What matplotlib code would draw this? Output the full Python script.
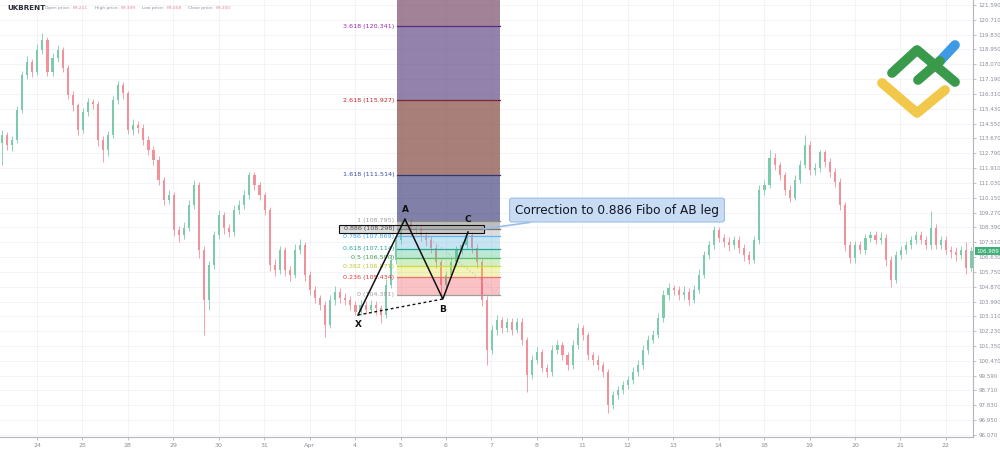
import numpy as np
import matplotlib
matplotlib.use('Agg')
import matplotlib.pyplot as plt
import matplotlib.transforms as mtrans

# dati (candele UKBRENT, ~9 candele per giorno)
first_open = 113.40
closes = [113.87, 113.28, 113.58, 115.36, 117.44, 118.21, 117.61, 118.92, 119.51, 117.61,
          118.44, 118.92, 117.85, 116.25, 115.66, 114.17, 115.24, 115.83, 115.71, 113.58,
          112.98, 113.87, 115.95, 116.84, 116.37, 114.17, 114.47, 114.29, 113.58, 112.98,
          112.39, 111.20, 110.02, 110.31, 108.24, 107.94, 108.36, 109.72, 110.91, 107.05,
          104.08, 106.16, 107.94, 109.13, 108.36, 108.12, 109.42, 109.72, 110.31, 111.50,
          110.91, 110.31, 109.42, 106.16, 105.86, 107.05, 105.86, 105.57, 107.05, 107.35,
          105.57, 104.68, 104.20, 103.79, 102.60, 104.08, 104.56, 104.20, 104.08, 103.79,
          103.37, 103.79, 103.49, 103.79, 103.61, 103.19, 104.97, 106.46, 107.64, 108.53,
          108.71, 108.24, 108.36, 107.94, 107.64, 107.17, 106.34, 104.97, 105.57, 106.34,
          107.05, 107.35, 107.94, 107.17, 106.34, 104.08, 101.11, 102.30, 102.90, 102.42,
          102.78, 102.30, 102.78, 101.71, 99.63, 100.52, 101.00, 100.05, 99.81, 101.11,
          101.41, 100.82, 100.22, 101.41, 102.42, 102.00, 100.82, 100.52, 100.22, 99.81,
          97.85, 98.44, 98.74, 99.04, 99.33, 99.81, 100.22, 101.11, 101.71, 102.00,
          103.01, 104.38, 104.79, 104.68, 104.38, 104.56, 104.08, 104.68, 105.57, 106.75,
          107.35, 108.24, 107.76, 107.52, 107.35, 107.64, 107.17, 106.75, 106.46, 107.64,
          110.61, 110.91, 112.51, 112.09, 111.50, 110.61, 110.14, 111.20, 112.09, 113.28,
          111.80, 111.92, 112.87, 112.27, 111.68, 111.09, 109.72, 107.35, 106.58, 107.35,
          107.05, 107.76, 107.94, 107.64, 107.76, 106.46, 105.27, 106.75, 107.05, 107.35,
          107.64, 107.94, 107.64, 107.35, 108.36, 107.35, 107.64, 107.05, 106.93, 106.75,
          107.05, 105.98, 106.989]
highs = [114.20, 114.05, 113.80, 115.60, 117.70, 118.55, 118.40, 119.30, 119.93, 119.70,
         118.75, 119.20, 119.10, 118.00, 116.50, 115.80, 115.50, 116.10, 116.00, 115.90,
         113.80, 114.10, 116.20, 117.05, 117.00, 116.50, 114.80, 114.70, 114.50, 113.80,
         113.20, 112.60, 111.40, 110.60, 110.50, 108.50, 108.70, 110.00, 111.20, 111.10,
         107.30, 106.40, 108.20, 109.40, 109.30, 108.60, 109.70, 110.00, 110.60, 111.70,
         111.65, 111.10, 110.50, 109.60, 106.50, 107.30, 107.20, 106.10, 107.40, 107.70,
         107.50, 105.80, 104.90, 104.40, 104.00, 104.40, 104.90, 104.80, 104.50, 104.30,
         104.00, 104.10, 104.00, 104.10, 104.00, 103.80, 105.30, 106.80, 107.90, 108.80,
         108.85, 108.90, 108.60, 108.60, 108.20, 107.90, 107.40, 106.50, 105.80, 106.60,
         107.30, 107.60, 108.10, 108.10, 107.40, 106.50, 104.30, 102.60, 103.20, 103.10,
         103.00, 103.00, 103.00, 103.00, 101.90, 100.80, 101.30, 101.20, 100.30, 101.40,
         101.70, 101.60, 101.00, 101.70, 102.70, 102.60, 102.20, 101.00, 100.80, 100.40,
         100.00, 98.70, 99.00, 99.30, 99.60, 100.10, 100.50, 101.40, 102.00, 102.30,
         103.30, 104.70, 105.10, 105.00, 104.90, 104.90, 104.80, 105.00, 105.90, 107.00,
         107.60, 108.45, 108.40, 108.00, 107.80, 107.90, 107.90, 107.40, 107.00, 107.90,
         110.90, 111.20, 112.99, 112.80, 112.30, 111.70, 110.90, 111.50, 112.40, 113.87,
         113.50, 112.20, 113.00, 113.00, 112.50, 111.90, 111.30, 109.90, 107.60, 107.60,
         107.60, 108.00, 108.20, 108.20, 108.10, 108.00, 106.70, 107.00, 107.30, 107.60,
         107.90, 108.20, 108.20, 107.90, 109.35, 108.60, 107.90, 107.90, 107.30, 107.20,
         107.30, 107.50, 107.20]
lows = [112.10, 113.00, 112.95, 113.40, 115.20, 117.20, 117.30, 117.45, 118.70, 117.35,
        117.40, 118.20, 117.60, 116.00, 115.30, 113.90, 114.00, 115.00, 115.40, 113.20,
        112.30, 112.60, 113.70, 115.70, 116.00, 113.95, 113.90, 114.00, 113.30, 112.70,
        112.10, 110.90, 109.70, 109.80, 107.90, 107.50, 107.70, 108.20, 109.50, 106.60,
        101.99, 103.50, 105.90, 107.70, 108.00, 107.80, 107.90, 109.20, 109.50, 110.10,
        110.60, 110.00, 109.10, 105.80, 105.50, 105.60, 105.50, 105.20, 105.40, 106.80,
        105.20, 104.40, 103.90, 103.50, 101.89, 102.40, 103.80, 103.90, 103.80, 103.50,
        103.19, 103.20, 103.25, 103.30, 103.20, 102.70, 103.00, 104.80, 106.20, 107.40,
        108.30, 107.90, 108.00, 107.60, 107.30, 106.90, 106.00, 104.14, 104.70, 105.40,
        106.10, 106.80, 107.10, 106.90, 106.00, 103.70, 100.20, 100.90, 102.00, 102.10,
        102.20, 102.00, 102.10, 101.40, 98.60, 99.40, 100.30, 99.80, 99.50, 99.60,
        100.90, 100.50, 99.90, 100.00, 101.20, 101.70, 100.50, 100.20, 99.90, 99.50,
        97.40, 97.60, 98.20, 98.50, 98.80, 99.10, 99.60, 100.00, 100.90, 101.50,
        101.80, 102.80, 104.10, 104.40, 104.10, 104.10, 103.80, 103.90, 104.50, 105.40,
        106.50, 107.10, 107.50, 107.20, 107.00, 107.10, 106.90, 106.40, 106.20, 106.30,
        107.40, 110.30, 110.70, 111.80, 111.20, 110.30, 109.90, 110.00, 111.00, 111.90,
        111.50, 111.50, 111.70, 112.00, 111.40, 110.80, 109.40, 107.00, 106.30, 106.30,
        106.80, 106.80, 107.50, 107.40, 107.40, 106.10, 104.85, 105.10, 106.50, 106.80,
        107.10, 107.40, 107.40, 107.10, 107.10, 107.10, 107.10, 106.80, 106.60, 106.40,
        106.50, 105.60, 105.80]

day_labels = ['24', '25', '28', '29', '30', '31', 'Apr', '4', '5', '6', '7', '8',
              '11', '12', '13', '14', '18', '19', '20', '21', '22']
price_ticks = [96.07 + 0.88 * k for k in range(30)]

# ritracciamento di Fibonacci
fib_ratios = ['0', '0.236', '0.382', '0.5', '0.618', '0.786', '0.886', '1', '1.618', '2.618', '3.618']
fib_prices = [104.381, 105.434, 106.071, 106.590, 107.114, 107.869, 108.298, 108.795, 111.514, 115.927, 120.341]
fib_start, fib_end = 78.2, 98.6

# pattern XABC (indice candela, prezzo)
pat_names = ['X', 'A', 'B', 'C']
pat_x = [70.5, 79.8, 87.3, 92.3]
pat_y = [103.19, 108.89, 104.14, 108.12]

header = [('Open price:', '69.211'), ('High price:', '69.399'),
          ('Low price:', '69.058'), ('Close price:', '69.200')]

closes = np.array(closes); highs = np.array(highs); lows = np.array(lows)
opens = np.r_[first_open, closes[:-1]]
idx = np.arange(len(closes))
up = closes >= opens

fig = plt.figure(figsize=(10, 4.49), dpi=100)
ax = fig.add_axes([0, 12 / 449, 0.973, 437 / 449])
ax.set_xlim(-0.4, 192.3)
ax.set_ylim(95.95, 121.887)

# griglia
day_pos = [6.93 + 9 * k for k in range(len(day_labels))]
for p in price_ticks:
    ax.axhline(p, color='#f0f2f7', lw=0.6, zorder=0)
for d in day_pos:
    ax.axvline(d, color='#f0f2f7', lw=0.6, zorder=0)

# candele
col_up, col_dn = '#7ccbaa', '#f3919b'
colors = np.where(up, col_up, col_dn)
ax.vlines(idx, lows, highs, colors=colors, lw=0.6, zorder=2)
body = np.maximum(np.abs(closes - opens), 0.05)
ax.bar(idx, body, bottom=np.minimum(opens, closes), width=0.42, color=colors, lw=0, zorder=2)

# bande di Fibonacci
band_cols = [('#f23645', 0.30), ('#d4d41a', 0.30), ('#7ccf5a', 0.35), ('#3fbf8a', 0.35),
             ('#5fb3dc', 0.35), ('#9e9e9e', 0.35), ('#8a8a8a', 0.55), ('#3c3c7a', 0.65),
             ('#7a3a32', 0.65), ('#5a3f80', 0.65), ('#703f60', 0.65)]
line_cols = ['#9e9e9e', '#e57373', '#cddc39', '#66bb6a', '#26a69a', '#64b5f6',
             '#757575', '#8a8a8a', '#35357a', '#7a2a2a', '#5a2a80']
lab_cols = ['#9e9e9e', '#e53935', '#c0ca33', '#43a047', '#26a69a', '#42a5f5',
            '#222222', '#9e9e9e', '#3949ab', '#c62828', '#9c27b0']
tops = fib_prices[1:] + [ax.get_ylim()[1]]
for lo, hi, (c, a) in zip(fib_prices, tops, band_cols):
    ax.fill_between([fib_start, fib_end], lo, hi, color=c, alpha=a, lw=0, zorder=3)
for p, r, lc, tc in zip(fib_prices, fib_ratios, line_cols, lab_cols):
    ax.plot([fib_start, fib_end], [p, p], color=lc, lw=0.9, zorder=3)
    ax.text(fib_start - 0.5, p, '%s (%.3f)' % (r, p), color=tc, fontsize=4.6,
            ha='right', va='center', zorder=4)
ax.plot([fib_start + 2, fib_end], [fib_prices[7], fib_prices[0]], color='#bdbdbd',
        lw=0.8, ls=(0, (1, 2)), zorder=3)

# rettangolo evidenziato 0.886
ax.add_patch(plt.Rectangle((66.7, 108.07), 95.4 - 66.7, 108.51 - 108.07,
                           facecolor='#9e9e9e', alpha=0.35, edgecolor='none', zorder=4))
ax.add_patch(plt.Rectangle((66.7, 108.07), 95.4 - 66.7, 108.51 - 108.07,
                           facecolor='none', edgecolor='#111111', lw=0.8, zorder=4))

# XABC
ax.plot(pat_x, pat_y, color='#111111', lw=1.1, zorder=5)
ax.plot([pat_x[0], pat_x[2]], [pat_y[0], pat_y[2]], color='#111111', lw=1, ls=(0, (2, 2)), zorder=5)
offs = [-0.55, 0.55, -0.62, 0.72]
for n, x, y, o in zip(pat_names, pat_x, pat_y, offs):
    ax.text(x, y + o, n, fontsize=6.5, fontweight='bold', color='#111111',
            ha='center', va='center', zorder=6)

# callout
ax.annotate('Correction to 0.886 Fibo of AB leg', xy=(95.4, 108.3), xytext=(121.8, 109.42),
            fontsize=8.7, color='#131722', ha='center', va='center', zorder=7,
            bbox=dict(boxstyle='round,pad=0.45,rounding_size=0.2', fc='#c8dcf3', ec='#9bbde6', lw=0.8),
            arrowprops=dict(arrowstyle='-', color='#9bbde6', lw=1.2, shrinkA=0, shrinkB=0))

# assi
ax.yaxis.tick_right()
ax.set_yticks(price_ticks, ['%.3f' % p for p in price_ticks])
ax.set_xticks(day_pos, day_labels)
ax.tick_params(axis='y', labelsize=4, labelcolor='#8a8e99', color='#b2b5be', length=2, pad=2, width=0.6)
ax.tick_params(axis='x', labelsize=4.5, labelcolor='#8a8e99', color='#b2b5be', length=2, pad=2, width=0.6)
for s in ['top', 'left']:
    ax.spines[s].set_visible(False)
for s in ['right', 'bottom']:
    ax.spines[s].set_color('#b2b5be')
    ax.spines[s].set_linewidth(0.8)

tr = mtrans.blended_transform_factory(ax.transAxes, ax.transData)
ax.text(1.003, closes[-1], '%.3f' % closes[-1], transform=tr, fontsize=4, color='white',
        ha='left', va='center', zorder=8, clip_on=False,
        bbox=dict(boxstyle='square,pad=0.25', fc='#3fae78', ec='none'))

# intestazione
fig.text(0.007, 0.982, 'UKBRENT', fontsize=5.2, fontweight='bold', color='#2a2e39', va='center')
xs = [0.045, 0.095, 0.142, 0.188]
for (lab, val), x in zip(header, xs):
    t = fig.text(x, 0.982, lab, fontsize=3.2, color='#8a8e99', va='center')
    fig.text(x, 0.982, ' ', fontsize=3.2)
    ax.annotate(val, xy=(1, 0.5), xycoords=t, xytext=(1.5, 0), textcoords='offset points',
                fontsize=3.2, color='#f0818d', va='center', ha='left', annotation_clip=False)

# logo
def fl(pts):
    return [p[0] / 1000 for p in pts], [1 - p[1] / 449 for p in pts]
for pts, c in [([(882, 83), (917, 113), (945, 90)], '#f2c84b'),
               ([(940, 61), (955, 45)], '#3f9ae6'),
               ([(918, 80), (940, 61)], '#3a9a4c'),
               ([(892, 73), (917, 50), (955, 82)], '#3a9a4c')]:
    xx, yy = fl(pts)
    fig.add_artist(plt.Line2D(xx, yy, color=c, lw=7, solid_capstyle='round',
                              solid_joinstyle='round'))

fig.savefig('out.png', dpi=100)
